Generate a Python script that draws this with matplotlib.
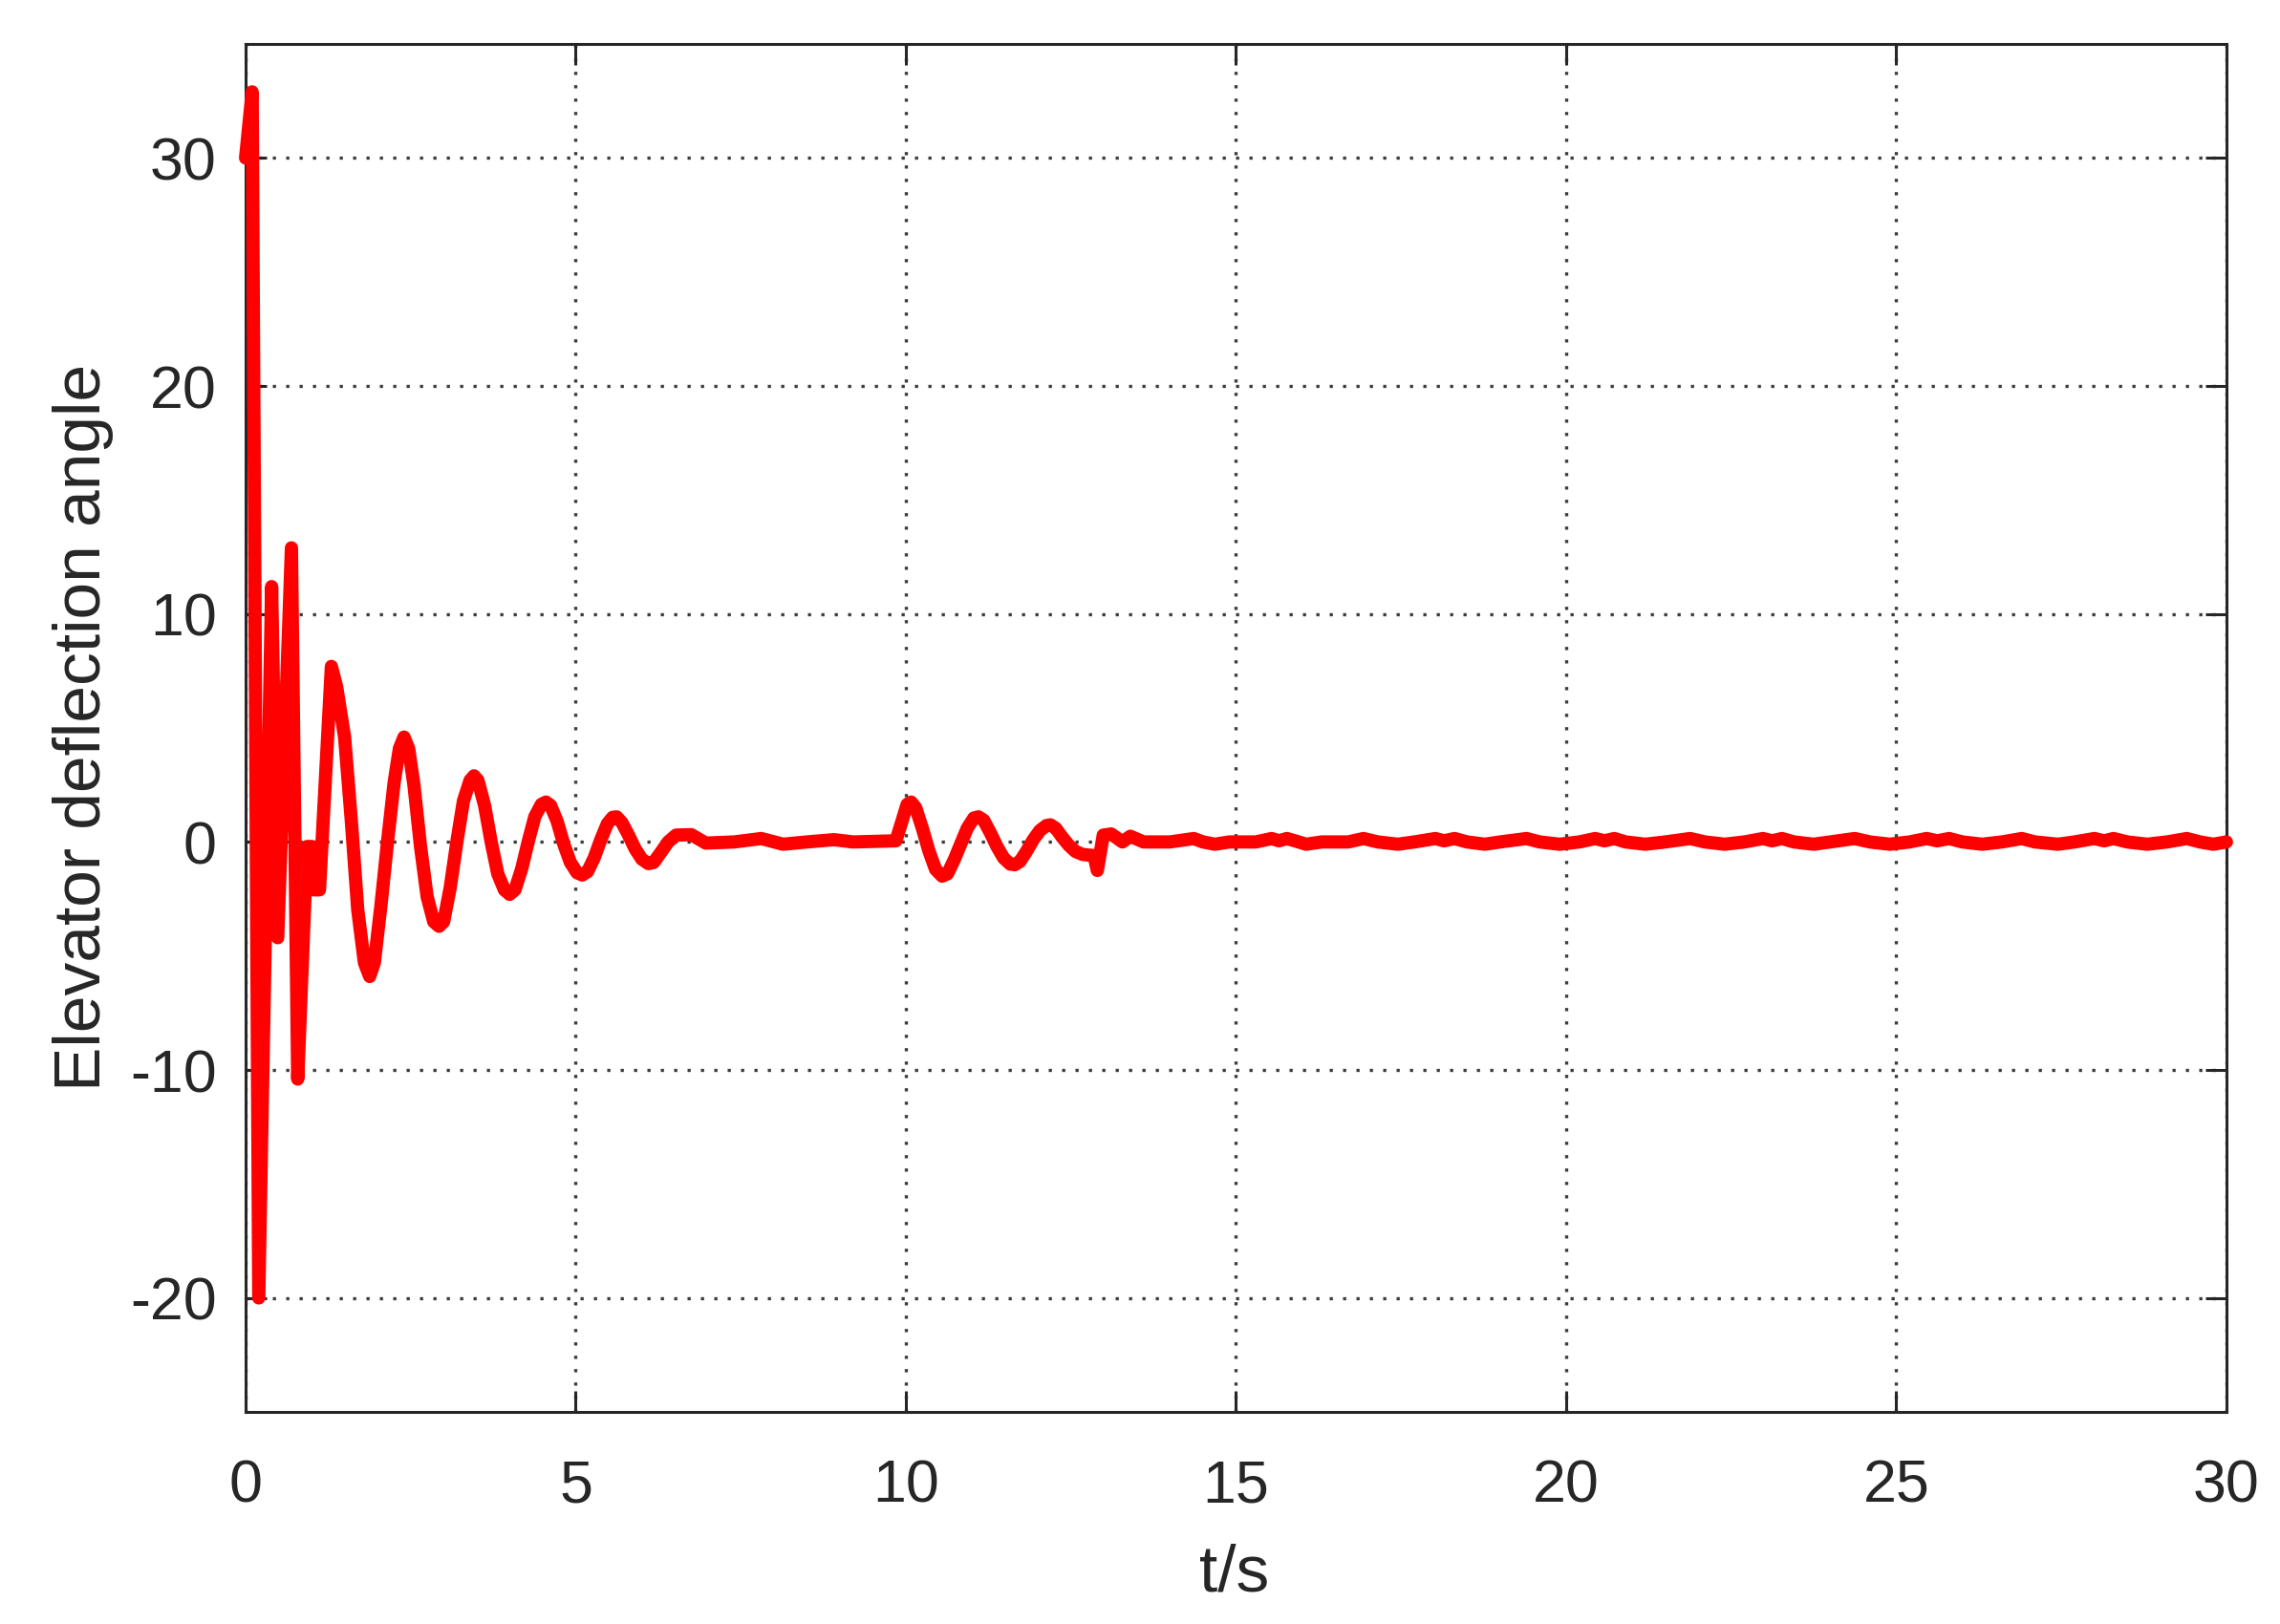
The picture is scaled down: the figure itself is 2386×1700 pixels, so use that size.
import matplotlib
matplotlib.use("Agg")
import matplotlib.pyplot as plt

plt.rcParams['font.family'] = ['Liberation Sans', 'DejaVu Sans']
plt.rcParams['axes.unicode_minus'] = False

# ---- data ----
t_initial = [0.0, 0.1, 0.2, 0.395, 0.487, 0.695, 0.79, 0.93, 1.0, 1.03, 1.12,
             1.3, 1.38, 1.5, 1.6, 1.7, 1.8, 1.88, 1.95, 2.05, 2.15, 2.25, 2.33,
             2.4, 2.47, 2.55, 2.65, 2.75, 2.85, 2.93, 3.0, 3.1, 3.2, 3.3, 3.4,
             3.46, 3.52, 3.62, 3.72, 3.82, 3.92, 4.0, 4.08, 4.18, 4.28, 4.38,
             4.48, 4.55, 4.62, 4.72, 4.82, 4.92, 5.02, 5.1, 5.18, 5.28, 5.38,
             5.48, 5.56, 5.62, 5.7, 5.8, 5.9, 6.0, 6.1, 6.18, 6.28, 6.4, 6.52,
             6.75, 6.85, 6.97]
y_initial = [30.0, 32.9, -20.0, 11.2, -4.2, 12.9, -10.4, -0.2, -0.2, -2.1, -2.1,
             7.7, 6.8, 4.6, 1.0, -3.0, -5.3, -5.9, -5.3, -2.8, 0.0, 2.6, 4.1,
             4.6, 4.1, 2.5, -0.2, -2.4, -3.5, -3.7, -3.5, -2.0, 0.0, 1.8, 2.7,
             2.9, 2.7, 1.6, 0.0, -1.4, -2.1, -2.3, -2.1, -1.2, 0.0, 1.1,
             1.65, 1.75, 1.6, 0.9, -0.1, -0.9, -1.35, -1.45, -1.3, -0.7, 0.1,
             0.8, 1.08, 1.1, 0.85, 0.3, -0.3, -0.75, -0.95, -0.9, -0.5, 0.0, 0.3,
             0.32, 0.15, -0.05]

t_quiet = [7.4, 7.81, 8.14, 8.5, 8.91, 9.2, 9.85]
y_quiet = [0.0, 0.15, -0.1, 0.0, 0.1, 0.0, 0.05]

t_second = [9.95, 10.02, 10.08, 10.15, 10.25, 10.35, 10.45, 10.55, 10.63, 10.73,
            10.83, 10.93, 11.03, 11.1, 11.18, 11.28, 11.38, 11.48, 11.58, 11.65,
            11.73, 11.83, 11.93, 12.03, 12.13, 12.19, 12.27, 12.37, 12.47, 12.57,
            12.68, 12.85, 12.9, 12.99, 13.11, 13.28, 13.4, 13.6]
y_second = [1.0, 1.65, 1.75, 1.5, 0.6, -0.4, -1.2, -1.5, -1.4, -0.8,
            -0.1, 0.6, 1.05, 1.1, 0.95, 0.4, -0.2, -0.7, -0.97, -1.0,
            -0.85, -0.4, 0.1, 0.5, 0.72, 0.75, 0.6, 0.2, -0.15, -0.42,
            -0.55, -0.6, -1.25, 0.3, 0.35, 0.0, 0.25, 0.0]

t_tail = [14.0, 14.36, 14.5, 14.68, 14.9, 15.3, 15.54, 15.65, 15.77, 15.95,
          16.06, 16.3, 16.7, 16.93, 17.15, 17.45, 17.7, 18.02, 18.15, 18.31,
          18.5, 18.77, 19.0, 19.4, 19.6, 19.9, 20.2, 20.44, 20.58, 20.73,
          20.9, 21.2, 21.5, 21.88, 22.1, 22.4, 22.7, 22.98, 23.12, 23.27,
          23.45, 23.75, 24.0, 24.37, 24.6, 24.9, 25.2, 25.46, 25.62, 25.8,
          26.0, 26.3, 26.6, 26.9, 27.1, 27.45, 27.7, 28.0, 28.15, 28.29,
          28.5, 28.8, 29.1, 29.4, 29.6, 29.8, 30.0]
y_tail = [0.0, 0.15, 0.0, -0.1, 0.0, 0.0, 0.15, 0.05, 0.15, 0.0,
          -0.1, 0.0, 0.0, 0.15, 0.0, -0.1, 0.0, 0.15, 0.05, 0.15,
          0.0, -0.1, 0.0, 0.15, 0.0, -0.1, 0.0, 0.15, 0.05, 0.15,
          0.0, -0.1, 0.0, 0.15, 0.0, -0.1, 0.0, 0.15, 0.05, 0.15,
          0.0, -0.1, 0.0, 0.15, 0.0, -0.1, 0.0, 0.15, 0.05, 0.15,
          0.0, -0.1, 0.0, 0.15, 0.0, -0.1, 0.0, 0.15, 0.05, 0.15,
          0.0, -0.1, 0.0, 0.15, 0.0, -0.1, 0.0]

x_ticks = [0, 5, 10, 15, 20, 25, 30]
y_ticks = [-20, -10, 0, 10, 20, 30]
x_label = "t/s"
y_label = "Elevator deflection angle"

t_all = t_initial + t_quiet + t_second + t_tail
y_all = y_initial + y_quiet + y_second + y_tail

# ---- figure ----
fig = plt.figure(figsize=(11.93, 8.5), dpi=200)
ax = fig.add_axes([0.1077, 0.1306, 0.8688, 0.8423])

txt = '#262626'
ax.plot(t_all, y_all, color='#ff0000', lw=5.0, solid_capstyle='round',
        solid_joinstyle='round', zorder=3, clip_on=False)

ax.set_xlim(0, 30)
ax.set_ylim(-25, 35)
ax.set_xticks(x_ticks)
ax.set_yticks(y_ticks)
ax.set_xticklabels([str(v) for v in x_ticks])
ax.set_yticklabels([str(v) for v in y_ticks])

ax.grid(True, color='#3c3c3c', lw=1.2, linestyle=(0, (1, 3.2)))
ax.set_axisbelow(True)

for s in ax.spines.values():
    s.set_color(txt)
    s.set_linewidth(1.1)

ax.tick_params(axis='both', which='both', direction='in', length=8, width=1.1,
               color=txt, labelcolor=txt, labelsize=22.6, top=True, right=True)
ax.tick_params(axis='y', pad=10.8)
ax.tick_params(axis='x', pad=17.5)

fig.text(0.5415, 0.02, x_label, ha='center', va='baseline', fontsize=25, color=txt)
fig.text(0.044, 0.552, y_label, ha='center', va='baseline', rotation=90,
         rotation_mode='anchor', fontsize=25, color=txt)

fig.savefig('out.png', dpi=200)
